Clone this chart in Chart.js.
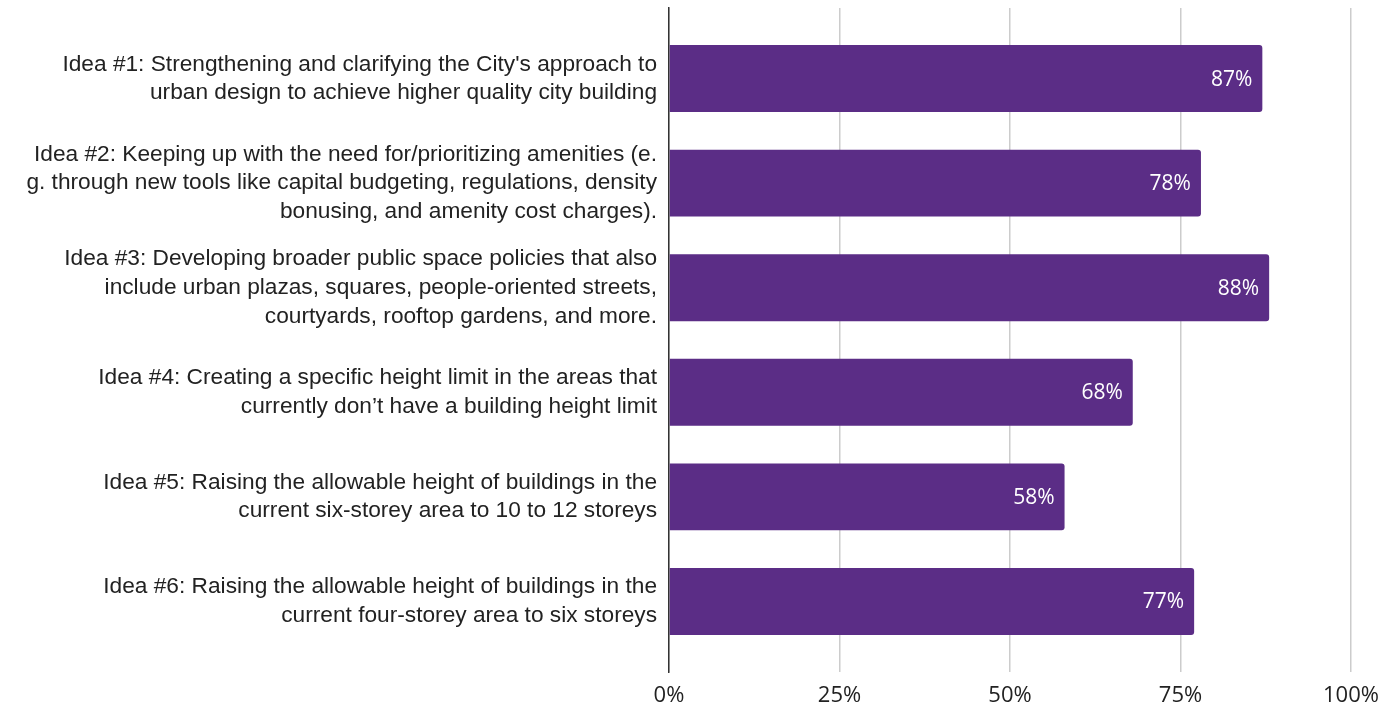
<!DOCTYPE html>
<html>
<head>
<meta charset="utf-8">
<title>Support for ideas</title>
<script src="https://cdn.jsdelivr.net/npm/chart.js@4"></script>
<style>
  html, body { margin: 0; padding: 0; background: #ffffff; }
  #wrap { width: 1399px; height: 708px; position: relative; }
</style>
</head>
<body>
<div id="wrap"><canvas id="ideasChart"></canvas></div>
<script>
/* Share of respondents supporting each idea */

const IDEA_LABELS = [
  ["Idea #1: Strengthening and clarifying the City's approach to", "urban design to achieve higher quality city building"],
  ["Idea #2: Keeping up with the need for/prioritizing amenities (e.", "g. through new tools like capital budgeting, regulations, density", "bonusing, and amenity cost charges)."],
  ["Idea #3: Developing broader public space policies that also", "include urban plazas, squares, people-oriented streets,", "courtyards, rooftop gardens, and more."],
  ["Idea #4: Creating a specific height limit in the areas that", "currently don\u2019t have a building height limit"],
  ["Idea #5: Raising the allowable height of buildings in the", "current six-storey area to 10 to 12 storeys"],
  ["Idea #6: Raising the allowable height of buildings in the", "current four-storey area to six storeys"],
];
const SUPPORT = [0.87, 0.78, 0.88, 0.68, 0.58, 0.77];
const X_TICKS = [0, 0.25, 0.5, 0.75, 1];

const BAR_COLOR = "#5b2d86";
const TEXT_COLOR = "#222222";

function pct(v) {
  return Math.round(v * 100) + "%";
}

/**
 * Writes the percentage inside the right end of each bar.
 */
const barValueLabels = {
  id: "barValueLabels",
  afterDatasetsDraw(chart) {
    const { ctx } = chart;
    const meta = chart.getDatasetMeta(0);
    ctx.save();
    ctx.font = "21px 'Open Sans'";
    ctx.fillStyle = "#ffffff";
    ctx.textAlign = "right";
    ctx.textBaseline = "middle";
    meta.data.forEach((bar, i) => {
      ctx.fillText(pct(SUPPORT[i]), bar.x - 10, bar.y + 1);
    });
    ctx.restore();
  },
};

function initIdeasChart() {
  const ctx = document.getElementById("ideasChart");

  new Chart(ctx, {
    type: "bar",
    data: {
      datasets: [
        {
          data: SUPPORT.map((v, i) => ({ x: v, y: i })),
          backgroundColor: BAR_COLOR,
          borderRadius: { topRight: 3, bottomRight: 3 },
          borderSkipped: false,
          barPercentage: 0.8,
          categoryPercentage: 0.8,
        },
      ],
    },
    options: {
      indexAxis: "y",
      responsive: true,
      maintainAspectRatio: false,
      animation: false,
      layout: { padding: { top: 8, right: 48, left: 0, bottom: 0 } },
      plugins: {
        legend: { display: false },
        tooltip: { enabled: false },
      },
      scales: {
        x: {
          type: "linear",
          min: 0,
          max: 1,
          afterBuildTicks: (scale) => {
            scale.ticks = X_TICKS.map((v) => ({ value: v }));
          },
          afterFit: (scale) => {
            scale.height = 36;
            scale.paddingLeft = 0;
            scale.paddingRight = 0;
          },
          grid: { color: "#cccccc", lineWidth: 1.5, drawTicks: false },
          border: { display: false },
          ticks: {
            color: TEXT_COLOR,
            font: { size: 22, family: "'Open Sans'" },
            padding: 11,
            maxRotation: 0,
            callback: (v) => pct(v),
          },
        },
        y: {
          type: "linear",
          reverse: true,
          offset: false,
          min: -0.675,
          max: 5.675,
          afterBuildTicks: (scale) => {
            scale.ticks = IDEA_LABELS.map((_, i) => ({ value: i }));
          },
          afterFit: (scale) => {
            scale.width = 669;
            scale.paddingTop = 0;
            scale.paddingBottom = 0;
          },
          grid: { display: false, drawTicks: false, offset: false },
          border: { display: true, color: "#333333", width: 1.5 },
          ticks: {
            color: TEXT_COLOR,
            font: { size: 22.7, family: "'Liberation Sans', Arial", lineHeight: 1.26 },
            padding: 12,
            callback: (v) => IDEA_LABELS[v],
          },
        },
      },
    },
    plugins: [barValueLabels],
  });
}

initIdeasChart();
</script>
</body>
</html>
